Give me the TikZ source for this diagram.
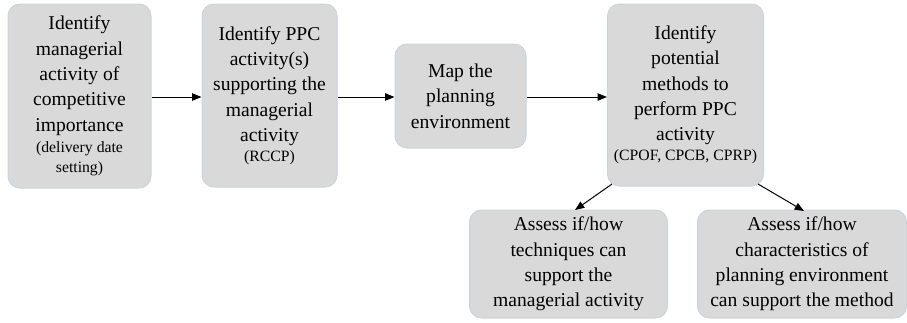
\documentclass[tikz,border=0pt]{standalone}
\usepackage{fontspec}
\setmainfont{Liberation Serif}
\usetikzlibrary{arrows.meta,calc}
\definecolor{boxfill}{HTML}{D9D9D9}
\definecolor{boxline}{HTML}{CDD3DA}
\begin{document}
\begin{tikzpicture}[x=0.75pt,y=-0.75pt,
  box/.style={draw=boxline,fill=boxfill,line width=0.75pt,rounded corners=9pt,
    align=center,inner sep=0pt,font=\fontsize{14.7}{19}\selectfont},
  conn/.style={line width=0.75pt,-{Triangle[length=7pt,width=5.5pt]}}]
\useasboundingbox (0,0) rectangle (907,322);
\newcommand{\sm}{\fontsize{11.8}{14}\selectfont}
\node[box,minimum width=143*0.75pt,minimum height=184*0.75pt] (b1) at (79.5,96)
  {Identify\\managerial\\activity of\\competitive\\importance\\[-3pt]{\sm(delivery date}\\[-4pt]{\sm setting)}};
\node[box,minimum width=135*0.75pt,minimum height=183*0.75pt] (b2) at (269.5,95.5)
  {Identify PPC\\activity(s)\\supporting the\\managerial\\activity\\[-4pt]{\sm(RCCP)}};
\node[box,minimum width=131*0.75pt,minimum height=104*0.75pt] (b3) at (460.5,96)
  {Map the\\planning\\environment};
\node[box,minimum width=156*0.75pt,minimum height=182*0.75pt] (b4) at (685.5,95)
  {Identify\\potential\\methods to\\perform PPC\\activity\\[-4pt]{\sm(CPOF, CPCB, CPRP)}};
\node[box,minimum width=198*0.75pt,minimum height=108*0.75pt] (b5) at (568.5,264)
  {Assess if/how\\techniques can\\support the\\managerial activity};
\node[box,minimum width=209*0.75pt,minimum height=108*0.75pt] (b6) at (802,264)
  {Assess if/how\\characteristics of\\planning environment\\can support the method};
\draw[conn] (b1.east |- 0,97) -- (b2.west |- 0,97);
\draw[conn] (b2.east |- 0,97) -- (b3.west |- 0,97);
\draw[conn] (b3.east |- 0,97) -- (b4.west |- 0,97);
\coordinate (s5) at (612,184);
\coordinate (s6) at (758,184);
\draw[conn] (s5) -- (575,210);
\draw[conn] (s6) -- (804,211);
\end{tikzpicture}
\end{document}
